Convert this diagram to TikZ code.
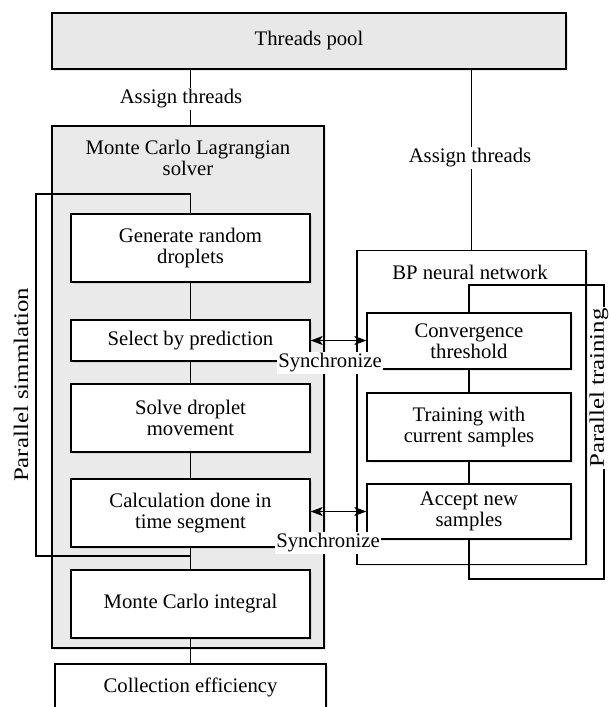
\documentclass[tikz,border=0pt]{standalone}
\usepackage{fontspec}
\setmainfont{Liberation Serif}
\usepackage{xcolor}
\usetikzlibrary{arrows.meta,shadows}
\definecolor{PoolGray}{HTML}{E8E8E8}
\definecolor{SolverGray}{HTML}{EAEAEA}

\begin{document}
\begin{tikzpicture}[x=1pt,y=-1pt,
  font=\fontsize{20.7}{21.5}\selectfont, >={Stealth[length=12pt,width=9pt,inset=3pt]},
  shd/.style={drop shadow={opacity=0.18,shadow xshift=1.5pt,shadow yshift=-1.5pt}},
  outer/.style={draw,line width=1.3pt,shd},
  blk/.style={draw,line width=1.3pt,fill=white,align=center,inner sep=0pt,
              minimum width=239pt,shd},
  bpblk/.style={blk,minimum width=204pt},
  lbl/.style={fill=white,inner sep=1.5pt},
  k/.style={line width=1.3pt},
  sync/.style={<->,line width=1.3pt},
]
\useasboundingbox (0,0) rectangle (609,707);

% containers
\node[outer,fill=PoolGray,minimum width=514pt,minimum height=56pt] (pool) at (309,41) {Threads pool};
\node[outer,fill=SolverGray,minimum width=272pt,minimum height=522pt] (mc) at (188,387) {};
\node[align=center] (mctitle) at (188,158) {Monte Carlo Lagrangian\\solver};
\node[outer,fill=white,minimum width=229pt,minimum height=314pt] (bp) at (471.5,407.5) {};
\node (bptitle) at (470,272) {BP neural network};

% solver steps
\node[blk,minimum height=68pt] (gen)   at (190.5,248)   {Generate random\\droplets};
\node[blk,minimum height=41pt] (sel)   at (190.5,340.5) {Select by prediction};
\node[blk,minimum height=68pt] (solve) at (190.5,418)   {Solve droplet\\movement};
\node[blk,minimum height=68pt] (calc)  at (190.5,513)   {Calculation done in\\time segment};
\node[blk,minimum height=68pt] (mcint) at (190.5,604)   {Monte Carlo integral};
\node[blk,minimum width=271pt,minimum height=46pt] (coll) at (190.5,687) {Collection efficiency};

% network steps
\node[bpblk,minimum height=56pt] (conv)   at (469,341)   {Convergence\\threshold};
\node[bpblk,minimum height=68pt] (train)  at (469,427)   {Training with\\current samples};
\node[bpblk,minimum height=55pt] (accept) at (469,511.5) {Accept new\\samples};

% links
\draw[k] (pool.south -| gen.north) -- (mc.north -| gen.north);
\draw[k] (pool.south -| bp.north) -- (bp.north);
\draw[k] (gen) -- (sel);
\draw[k] (sel) -- (solve);
\draw[k] (solve) -- (calc);
\draw[k] (calc) -- (mcint);
\draw[k] (mcint) -- (coll);
\draw[k] (conv) -- (train);
\draw[k] (train) -- (accept);

% loops
\coordinate (lt) at (36,194);
\coordinate (lb) at (36,556);
\draw[k] (gen.north) |- (lt) -- (lb) -- (lb -| calc.south);
\coordinate (rt) at (604,285);
\coordinate (rb) at (604,579);
\draw[k] (conv.north) |- (rt) -- (rb) -| (accept.south);

% synchronisation
\draw[sync] (sel.east) -- (sel.east -| conv.west);
\draw[sync] (calc.east |- accept.west) -- (accept.west);

% labels
\node[lbl] (asgl) at (181,99) {Assign threads};
\node[lbl] (asgr) at (470,158) {Assign threads};
\node[lbl] (sync1) at (330,363) {Synchronize};
\node[lbl] (sync2) at (328,543) {Synchronize};
\node[rotate=90] (psim) at (21,385) {\scalebox{1.2}[1]{Parallel simmlation}};
\node[lbl,rotate=90] (ptrain) at (599,388) {\scalebox{1.2}[1]{Parallel training}};
\end{tikzpicture}
\end{document}
